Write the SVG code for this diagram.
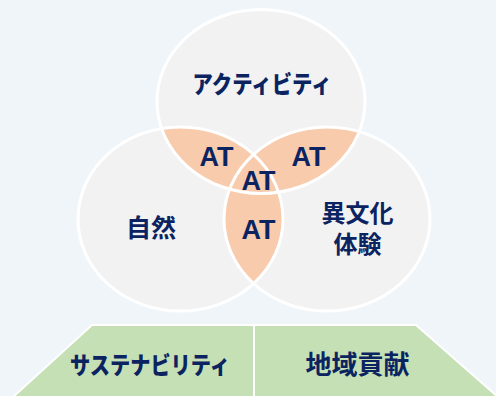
<svg xmlns="http://www.w3.org/2000/svg" width="496" height="396" viewBox="0 0 496 396">
  <style>
    .circ { fill: #f2f2f2; }
    .ring { fill: none; stroke: #ffffff; stroke-width: 3; }
    .lens { fill: #f8cbad; }
    .jp { font-family: "Noto Sans CJK JP", "Noto Sans", sans-serif; font-weight: bold; fill: #0b2461; text-anchor: middle; }
    .kana { font-weight: 900; }
    .at { font-family: "Liberation Sans", Arial, sans-serif; font-weight: bold; fill: #0b2461; text-anchor: middle; font-size: 27px; }
    .base { fill: #c5e0b4; stroke: #ffffff; stroke-width: 2; }
  </style>
  <defs>
    <clipPath id="clipTop"><ellipse cx="261" cy="101.5" rx="104" ry="92"/></clipPath>
    <clipPath id="clipLeft"><ellipse cx="180.5" cy="219" rx="102.5" ry="92"/></clipPath>
  </defs>
  <rect x="0" y="0" width="496" height="396" fill="#f0f5fa"/>

  <g id="venn">
    <ellipse class="circ" cx="261" cy="101.5" rx="104" ry="92"/>
    <ellipse class="circ" cx="180.5" cy="219" rx="102.5" ry="92"/>
    <ellipse class="circ" cx="327" cy="219" rx="103" ry="92"/>
    <g clip-path="url(#clipTop)">
      <ellipse class="lens" cx="180.5" cy="219" rx="102.5" ry="92"/>
      <ellipse class="lens" cx="327" cy="219" rx="103" ry="92"/>
    </g>
    <g clip-path="url(#clipLeft)">
      <ellipse class="lens" cx="327" cy="219" rx="103" ry="92"/>
    </g>
    <ellipse class="ring" cx="261" cy="101.5" rx="104" ry="92"/>
    <ellipse class="ring" cx="180.5" cy="219" rx="102.5" ry="92"/>
    <ellipse class="ring" cx="327" cy="219" rx="103" ry="92"/>
  </g>

  <g id="node-activity">
    <text class="jp kana" x="262" y="93" font-size="24" textLength="139" lengthAdjust="spacingAndGlyphs">アクティビティ</text>
  </g>
  <g id="node-nature">
    <text class="jp" x="151" y="237" font-size="25">自然</text>
  </g>
  <g id="node-culture">
    <text class="jp" font-size="24"><tspan x="357.5" y="222">異文化</tspan><tspan x="357.5" y="253">体験</tspan></text>
  </g>
  <g id="node-at-left"><text class="at" x="216.5" y="166">AT</text></g>
  <g id="node-at-right"><text class="at" x="308.5" y="166">AT</text></g>
  <g id="node-at-center"><text class="at" x="258.5" y="190">AT</text></g>
  <g id="node-at-bottom"><text class="at" x="258.5" y="239">AT</text></g>

  <g id="node-sustainability">
    <polygon class="base" points="92,325 254,325 254,397 13,397"/>
    <text class="jp kana" x="150" y="374" font-size="24" textLength="160" lengthAdjust="spacingAndGlyphs">サステナビリティ</text>
  </g>
  <g id="node-community">
    <polygon class="base" points="254,325 416,325 498,397 254,397"/>
    <text class="jp" x="357.5" y="374" font-size="26">地域貢献</text>
  </g>

  <g id="connectors"></g>
</svg>
